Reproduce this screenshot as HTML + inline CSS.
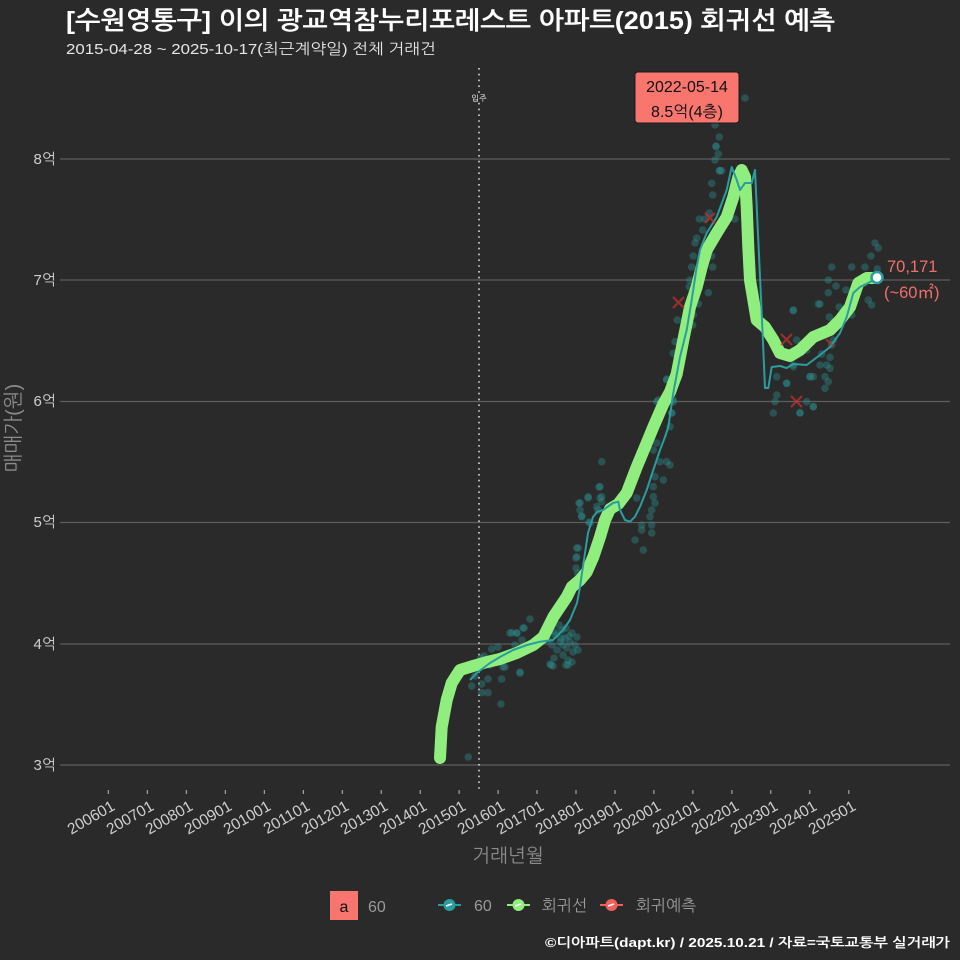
<!DOCTYPE html>
<html><head><meta charset="utf-8">
<style>
html,body{margin:0;padding:0;background:#2a2a2a;}
svg{display:block;}
text{font-family:"Liberation Sans","NanumGothic","Noto Sans CJK KR",sans-serif;}
</style></head>
<body>
<svg width="960" height="960" viewBox="0 0 960 960" xmlns="http://www.w3.org/2000/svg">
<rect width="960" height="960" fill="#2a2a2a"/>
<!-- title -->
<text x="66" y="29" font-size="25" font-weight="bold" fill="#ffffff" textLength="769" lengthAdjust="spacingAndGlyphs">[수원영통구] 이의 광교역참누리포레스트 아파트(2015) 회귀선 예측</text>
<text x="66" y="54" font-size="15" fill="#e6e6e6" textLength="370" lengthAdjust="spacingAndGlyphs">2015-04-28 ~ 2025-10-17(최근계약일) 전체 거래건</text>

<!-- grid -->
<g stroke="#5e5e5e" stroke-width="1.3">
<line x1="60" x2="950" y1="159" y2="159"/>
<line x1="60" x2="950" y1="280" y2="280"/>
<line x1="60" x2="950" y1="401.5" y2="401.5"/>
<line x1="60" x2="950" y1="522.5" y2="522.5"/>
<line x1="60" x2="950" y1="644" y2="644"/>
<line x1="60" x2="950" y1="765" y2="765"/>
</g>
<g font-size="15" fill="#cfcfcf" text-anchor="end">
<text x="56" y="164">8억</text>
<text x="56" y="285">7억</text>
<text x="56" y="406">6억</text>
<text x="56" y="527">5억</text>
<text x="56" y="649">4억</text>
<text x="56" y="770">3억</text>
</g>
<text transform="translate(20,428) rotate(-90)" font-size="20" fill="#8c8c8c" text-anchor="middle">매매가(원)</text>

<!-- x ticks -->
<g stroke="#bbbbbb" stroke-width="1">
<line x1="108.3" x2="108.3" y1="790" y2="794"/><line x1="147.3" x2="147.3" y1="790" y2="794"/>
<line x1="186.3" x2="186.3" y1="790" y2="794"/><line x1="225.3" x2="225.3" y1="790" y2="794"/>
<line x1="264.3" x2="264.3" y1="790" y2="794"/><line x1="303.3" x2="303.3" y1="790" y2="794"/>
<line x1="342.3" x2="342.3" y1="790" y2="794"/><line x1="381.2" x2="381.2" y1="790" y2="794"/>
<line x1="420.2" x2="420.2" y1="790" y2="794"/><line x1="459.1" x2="459.1" y1="790" y2="794"/>
<line x1="498.1" x2="498.1" y1="790" y2="794"/><line x1="537" x2="537" y1="790" y2="794"/>
<line x1="576" x2="576" y1="790" y2="794"/><line x1="615" x2="615" y1="790" y2="794"/>
<line x1="653.9" x2="653.9" y1="790" y2="794"/><line x1="692.9" x2="692.9" y1="790" y2="794"/>
<line x1="731.9" x2="731.9" y1="790" y2="794"/><line x1="770.8" x2="770.8" y1="790" y2="794"/>
<line x1="809.8" x2="809.8" y1="790" y2="794"/><line x1="848.8" x2="848.8" y1="790" y2="794"/>
</g>
<g font-size="15.5" fill="#cfcfcf" text-anchor="end">
<text transform="translate(116,809) rotate(-30)">200601</text>
<text transform="translate(155,809) rotate(-30)">200701</text>
<text transform="translate(194,809) rotate(-30)">200801</text>
<text transform="translate(233,809) rotate(-30)">200901</text>
<text transform="translate(272,809) rotate(-30)">201001</text>
<text transform="translate(311,809) rotate(-30)">201101</text>
<text transform="translate(350,809) rotate(-30)">201201</text>
<text transform="translate(389,809) rotate(-30)">201301</text>
<text transform="translate(428,809) rotate(-30)">201401</text>
<text transform="translate(467,809) rotate(-30)">201501</text>
<text transform="translate(506,809) rotate(-30)">201601</text>
<text transform="translate(545,809) rotate(-30)">201701</text>
<text transform="translate(584,809) rotate(-30)">201801</text>
<text transform="translate(623,809) rotate(-30)">201901</text>
<text transform="translate(662,809) rotate(-30)">202001</text>
<text transform="translate(701,809) rotate(-30)">202101</text>
<text transform="translate(740,809) rotate(-30)">202201</text>
<text transform="translate(779,809) rotate(-30)">202301</text>
<text transform="translate(818,809) rotate(-30)">202401</text>
<text transform="translate(857,809) rotate(-30)">202501</text>
</g>
<text x="508" y="862" font-size="19" fill="#8c8c8c" text-anchor="middle">거래년월</text>

<!-- dotted move-in line -->
<line x1="479" x2="479" y1="68" y2="790" stroke="#d8d8d8" stroke-width="1.6" stroke-dasharray="1.6,4.2"/>
<rect x="471" y="93" width="16" height="9" fill="#2a2a2a"/>
<text x="479" y="101" font-size="8" fill="#ffffff" text-anchor="middle">입주</text>

<!-- scatter -->
<g fill="#2c8f8f" fill-opacity="0.4">
<circle cx="468.3" cy="757" r="3.8"/><circle cx="530" cy="619" r="3.8"/><circle cx="511.7" cy="632.7" r="3.8"/><circle cx="517" cy="633" r="3.8"/><circle cx="524" cy="628" r="3.8"/><circle cx="505" cy="667" r="3.8"/><circle cx="520" cy="673" r="3.8"/><circle cx="501.7" cy="679" r="3.8"/><circle cx="488" cy="679" r="3.8"/><circle cx="481.7" cy="684" r="3.8"/><circle cx="471.7" cy="686" r="3.8"/><circle cx="481.7" cy="692.7" r="3.8"/><circle cx="488" cy="692.7" r="3.8"/><circle cx="501" cy="704" r="3.8"/><circle cx="491.7" cy="649" r="3.8"/><circle cx="498" cy="647" r="3.8"/><circle cx="484" cy="656" r="3.8"/><circle cx="480.7" cy="658" r="3.8"/>
<circle cx="475" cy="676" r="3.8"/><circle cx="490" cy="665" r="3.8"/><circle cx="508" cy="655" r="3.8"/><circle cx="515" cy="645" r="3.8"/><circle cx="522" cy="640" r="3.8"/><circle cx="510" cy="633" r="3.8"/><circle cx="516.7" cy="633" r="3.8"/><circle cx="523" cy="628" r="3.8"/><circle cx="520" cy="672" r="3.8"/><circle cx="503" cy="667" r="3.8"/>
<circle cx="548" cy="640" r="3.8"/><circle cx="552" cy="645" r="3.8"/><circle cx="555" cy="635" r="3.8"/><circle cx="557" cy="650" r="3.8"/><circle cx="560" cy="642" r="3.8"/><circle cx="562" cy="630" r="3.8"/><circle cx="563" cy="655" r="3.8"/><circle cx="565" cy="638" r="3.8"/><circle cx="567" cy="648" r="3.8"/><circle cx="568" cy="660" r="3.8"/><circle cx="570" cy="642" r="3.8"/><circle cx="572" cy="633" r="3.8"/><circle cx="573" cy="652" r="3.8"/><circle cx="566" cy="628" r="3.8"/><circle cx="559" cy="625" r="3.8"/><circle cx="575" cy="645" r="3.8"/><circle cx="577" cy="637" r="3.8"/><circle cx="554" cy="658" r="3.8"/><circle cx="550" cy="664" r="3.8"/><circle cx="545" cy="630" r="3.8"/><circle cx="578" cy="650" r="3.8"/><circle cx="568" cy="665" r="3.8"/><circle cx="563" cy="645" r="3.8"/><circle cx="555" cy="632" r="3.8"/><circle cx="551" cy="665" r="3.8"/><circle cx="553" cy="666" r="3.8"/><circle cx="566" cy="665" r="3.8"/><circle cx="572" cy="662" r="3.8"/><circle cx="561" cy="638" r="3.8"/><circle cx="569" cy="636" r="3.8"/>
<circle cx="576.7" cy="548" r="3.8"/><circle cx="576" cy="558" r="3.8"/><circle cx="576" cy="568" r="3.8"/><circle cx="577.7" cy="573" r="3.8"/><circle cx="579" cy="503" r="3.8"/><circle cx="580" cy="510" r="3.8"/><circle cx="581.7" cy="516" r="3.8"/><circle cx="588" cy="498" r="3.8"/><circle cx="589" cy="522" r="3.8"/><circle cx="599" cy="487" r="3.8"/><circle cx="601.7" cy="461.7" r="3.8"/><circle cx="600" cy="498" r="3.8"/><circle cx="598" cy="510" r="3.8"/>
<circle cx="666.7" cy="379" r="3.8"/><circle cx="656.7" cy="401.7" r="3.8"/><circle cx="673.3" cy="401.7" r="3.8"/><circle cx="671.7" cy="413" r="3.8"/><circle cx="670" cy="426.7" r="3.8"/><circle cx="656.7" cy="443" r="3.8"/><circle cx="653.3" cy="450" r="3.8"/><circle cx="660" cy="461.7" r="3.8"/><circle cx="666.7" cy="461.7" r="3.8"/><circle cx="670" cy="465" r="3.8"/><circle cx="655" cy="476.7" r="3.8"/><circle cx="663.3" cy="480" r="3.8"/><circle cx="653.3" cy="486.7" r="3.8"/><circle cx="653.3" cy="496.7" r="3.8"/><circle cx="655" cy="503" r="3.8"/><circle cx="651.7" cy="510" r="3.8"/><circle cx="650" cy="516.7" r="3.8"/><circle cx="651.7" cy="525" r="3.8"/><circle cx="651.7" cy="533" r="3.8"/><circle cx="641.7" cy="525" r="3.8"/><circle cx="641.7" cy="530" r="3.8"/><circle cx="636.7" cy="498" r="3.8"/><circle cx="635" cy="540" r="3.8"/><circle cx="643.3" cy="550" r="3.8"/><circle cx="600" cy="486.7" r="3.8"/><circle cx="601.7" cy="496.7" r="3.8"/><circle cx="601.7" cy="501.7" r="3.8"/><circle cx="588.3" cy="496.7" r="3.8"/><circle cx="580" cy="503" r="3.8"/><circle cx="581.7" cy="516.7" r="3.8"/><circle cx="590" cy="523" r="3.8"/><circle cx="596.7" cy="506.7" r="3.8"/><circle cx="578.3" cy="548" r="3.8"/><circle cx="576.7" cy="556.7" r="3.8"/>
<circle cx="716" cy="146" r="3.8"/><circle cx="718.3" cy="154" r="3.8"/><circle cx="715" cy="160" r="3.8"/><circle cx="719.3" cy="170.7" r="3.8"/><circle cx="721.7" cy="170.7" r="3.8"/><circle cx="711.7" cy="183.3" r="3.8"/><circle cx="712.7" cy="195" r="3.8"/><circle cx="709.3" cy="213" r="3.8"/><circle cx="699.3" cy="219" r="3.8"/><circle cx="705" cy="219" r="3.8"/><circle cx="735" cy="219" r="3.8"/><circle cx="702.7" cy="230" r="3.8"/><circle cx="696.7" cy="238" r="3.8"/><circle cx="695" cy="243" r="3.8"/><circle cx="711.7" cy="256" r="3.8"/><circle cx="693.3" cy="256" r="3.8"/><circle cx="712.7" cy="267" r="3.8"/><circle cx="691.7" cy="267" r="3.8"/><circle cx="690" cy="280" r="3.8"/><circle cx="689.3" cy="286.7" r="3.8"/><circle cx="708.3" cy="292.7" r="3.8"/><circle cx="698.3" cy="304" r="3.8"/><circle cx="693.3" cy="315" r="3.8"/><circle cx="692.7" cy="325" r="3.8"/><circle cx="677.3" cy="320" r="3.8"/><circle cx="675" cy="341.7" r="3.8"/><circle cx="673.3" cy="353.3" r="3.8"/><circle cx="666.7" cy="380" r="3.8"/><circle cx="658.3" cy="400" r="3.8"/><circle cx="673.3" cy="400" r="3.8"/><circle cx="671.7" cy="413" r="3.8"/>
<circle cx="745" cy="98" r="3.8"/><circle cx="715" cy="125" r="3.8"/><circle cx="719.3" cy="137" r="3.8"/><circle cx="716" cy="146.7" r="3.8"/><circle cx="720" cy="170.7" r="3.8"/>
<circle cx="793.3" cy="310.7" r="3.8"/><circle cx="818.3" cy="304" r="3.8"/><circle cx="796.7" cy="340" r="3.8"/><circle cx="806.7" cy="350" r="3.8"/><circle cx="776.7" cy="376.7" r="3.8"/><circle cx="786.7" cy="383.3" r="3.8"/><circle cx="776.7" cy="395" r="3.8"/><circle cx="775" cy="401.7" r="3.8"/><circle cx="773.3" cy="413" r="3.8"/><circle cx="800" cy="413" r="3.8"/><circle cx="813.3" cy="406.7" r="3.8"/><circle cx="810" cy="376.7" r="3.8"/><circle cx="813.3" cy="376.7" r="3.8"/><circle cx="793.3" cy="366.7" r="3.8"/>
<circle cx="875" cy="243" r="3.8"/><circle cx="878.3" cy="248" r="3.8"/><circle cx="871" cy="256" r="3.8"/><circle cx="831.7" cy="267" r="3.8"/><circle cx="851.7" cy="267" r="3.8"/><circle cx="865" cy="267" r="3.8"/><circle cx="877.3" cy="269" r="3.8"/><circle cx="828.3" cy="280" r="3.8"/><circle cx="836" cy="286" r="3.8"/><circle cx="846" cy="290" r="3.8"/><circle cx="828.3" cy="292.7" r="3.8"/><circle cx="868.3" cy="300" r="3.8"/><circle cx="871.7" cy="305" r="3.8"/><circle cx="820" cy="304" r="3.8"/><circle cx="839.3" cy="307" r="3.8"/><circle cx="793.3" cy="310" r="3.8"/><circle cx="851.7" cy="315" r="3.8"/><circle cx="829.3" cy="317" r="3.8"/><circle cx="833.3" cy="340" r="3.8"/><circle cx="831.7" cy="345" r="3.8"/><circle cx="821.7" cy="354" r="3.8"/><circle cx="830" cy="357.3" r="3.8"/><circle cx="826.7" cy="365" r="3.8"/><circle cx="820" cy="365" r="3.8"/><circle cx="830" cy="368.3" r="3.8"/><circle cx="793.3" cy="365" r="3.8"/><circle cx="810" cy="376.7" r="3.8"/><circle cx="825" cy="376.7" r="3.8"/><circle cx="828.3" cy="381.7" r="3.8"/><circle cx="786.7" cy="383.3" r="3.8"/><circle cx="825" cy="388.3" r="3.8"/><circle cx="806.7" cy="401.7" r="3.8"/><circle cx="813.3" cy="406.7" r="3.8"/><circle cx="800" cy="412.7" r="3.8"/>
</g>

<!-- regression line (green) -->
<polyline fill="none" stroke="#90ee7e" stroke-width="12" stroke-linejoin="round" stroke-linecap="round"
points="440,758 441.7,727 446.7,700 451.7,683 460,670 473,666 487,662 500,659 516.7,653 533.3,645 543.3,637 548.3,627 553.3,617 560,607 566.7,597 571.7,587 580,580 586.7,572 593.3,557 600,537 605,520 610,509 618.3,504 626.7,493 636.7,467 646.7,443 653.3,427 663.3,404 670,392 676.7,374 683.3,340 690,307 696.7,287 701.7,267 706.7,250 716.7,233 726.7,217 733.3,197 738.3,177 741.7,170 745,177 746.7,207 748.3,247 750,280 756.7,320 765,327 773.3,340 780,353 790,356 800,350 813.3,337 830,330 840,320 850,307 858.3,283 866.7,278 876.7,278"/>

<!-- teal line -->
<polyline fill="none" stroke="#2a9d9e" stroke-width="2" stroke-linejoin="round"
points="470,680 476.7,673 490,663 500,657 513,650 527,645 540,641.7 553,640 563,630 570,620 577,603 580,587 582,573 585,553 588,533 593,517 597,512 603,510 613,503 618.3,501.7 620,510 625,520 630,521.7 635,516.7 640,506.7 646.7,490 653.3,470 660,450 665,437 668.3,427 673.3,393 680,357 686.7,330 691.7,300 696.7,267 700,250 706.7,233 716.7,217 726.7,190 731.7,167 736.7,180 740,190 745,183 751.7,183 755,170 758.3,240 761.7,313 765,388 768.3,388 771.7,367 780,366 786.7,368 793.3,364 806.7,365 820,355 830,347 840,333 846.7,317 853.3,293 860,287 868.3,283 876.7,278"/>

<!-- red X predictions -->
<g stroke="#d03030" stroke-width="2" stroke-opacity="0.7">
<path d="M673,297 l11,11 M684,297 l-11,11"/>
<path d="M705,213 l10,10 M715,213 l-10,10"/>
<path d="M781,334 l11,11 M792,334 l-11,11"/>
<path d="M791,396 l11,11 M802,396 l-11,11"/>
<path d="M826,339 l7,7"/>
</g>

<!-- end point -->
<circle cx="877" cy="277.5" r="5.5" fill="#ffffff" stroke="#2a9d9e" stroke-width="2.5"/>
<text x="887" y="272" font-size="16.5" fill="#f0706a">70,171</text>
<text x="884" y="298" font-size="16.5" fill="#f0706a">(~60㎡)</text>

<!-- annotation -->
<rect x="635" y="72" width="104" height="51" rx="3" fill="#f8766d" stroke="#1a1a1a" stroke-width="1"/>
<text x="687" y="92" font-size="16" fill="#111" text-anchor="middle">2022-05-14</text>
<text x="687" y="117" font-size="16" fill="#111" text-anchor="middle">8.5억(4층)</text>

<!-- legend -->
<rect x="330" y="891" width="28" height="29" fill="#f8766d"/>
<text x="344" y="912" font-size="16" fill="#111" text-anchor="middle">a</text>
<text x="368" y="912" font-size="16" fill="#9a9a9a">60</text>
<g>
<line x1="438" x2="461" y1="905" y2="905" stroke="#2a9d9e" stroke-width="2"/>
<circle cx="449.5" cy="905" r="6" fill="#2a9d9e"/>
<line x1="446" x2="452" y1="906" y2="904" stroke="#ffffff" stroke-width="1.5"/>
<text x="474" y="911" font-size="16" fill="#9a9a9a">60</text>
<line x1="507" x2="530" y1="905" y2="905" stroke="#90ee7e" stroke-width="2"/>
<circle cx="518.5" cy="905" r="6" fill="#90ee7e"/>
<line x1="515" x2="521" y1="906" y2="904" stroke="#ffffff" stroke-width="1.5"/>
<text x="542" y="911" font-size="16" fill="#9a9a9a">회귀선</text>
<line x1="600" x2="623" y1="905" y2="905" stroke="#f0605a" stroke-width="2"/>
<circle cx="611.5" cy="905" r="6" fill="#f0605a"/>
<line x1="608" x2="614" y1="906" y2="904" stroke="#ffffff" stroke-width="1.5"/>
<text x="636" y="911" font-size="16" fill="#9a9a9a">회귀예측</text>
</g>

<!-- caption -->
<text x="950" y="947" font-size="13" font-weight="bold" fill="#ffffff" text-anchor="end" textLength="405" lengthAdjust="spacingAndGlyphs">©디아파트(dapt.kr) / 2025.10.21 / 자료=국토교통부 실거래가</text>
</svg>
</body></html>
